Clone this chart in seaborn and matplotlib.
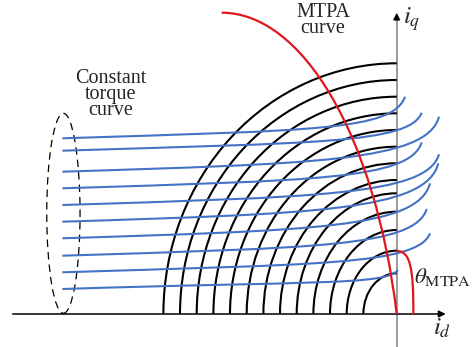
import matplotlib
matplotlib.use("Agg")
import matplotlib.pyplot as plt
import seaborn as sns
from matplotlib.patches import Arc, Ellipse, PathPatch
from matplotlib.path import Path

# ---- data (units ~ pixels, origin at the id/iq crossing) ----
ARC_RX = [233.3, 216.7, 200.0, 183.3, 166.7, 150.0, 133.3, 116.7, 100.0, 83.3, 66.7, 50.0, 33.3]
ARC_RY = [250.7, 234.0, 217.3, 200.7, 184.0, 167.3, 150.7, 134.0, 120.7, 102.3, 84.0, 63.3, 40.7]

TQ_LEFT_X = -334.3
TQ_LEFT_Y = [175.7, 163.3, 142.3, 125.7, 109.0, 92.3, 75.7, 58.3, 41.7, 25.0]
TQ_END_X  = [8.3, 25.0, 42.3, 25.0, 42.3, 41.6, 33.3, 30.0, 33.3, 1.3]
TQ_END_Y  = [217.3, 201.3, 197.3, 171.7, 159.7, 150.7, 130.7, 105.0, 80.7, 44.0]

MTPA_X = [-175.0, -95.0, -21.6, 0.0]
MTPA_Y = [301.3, 301.3, 180.0, 0.0]
THETA_X = [0.0, 14.0, 16.7, 16.7]
THETA_Y = [63.0, 63.0, 45.0, 0.0]

ELL_CENTER = (-333.3, 100.7)
ELL_W, ELL_H = 33.3, 200.0

BLUE = "#4472c4"
RED = "#e0161b"

sns.set_style("white")
plt.rcParams["font.family"] = ["Liberation Serif", "DejaVu Serif"]
plt.rcParams["mathtext.fontset"] = "stix"

fig = plt.figure(figsize=(4.75, 3.47), dpi=100)
ax = fig.add_axes([0, 0, 1, 1])
ax.set_xlim(-396.7, 78.3)
ax.set_ylim(-33, 314)
ax.axis("off")

# axes
ax.plot([0, 0], [-33, 296], color="#7f7f7f", lw=1.1, zorder=1)
ax.annotate("", xy=(0, 304), xytext=(0, 292),
            arrowprops=dict(arrowstyle="-|>", color="black", lw=1.0, mutation_scale=10))
ax.annotate("", xy=(49, 0), xytext=(-384, 0),
            arrowprops=dict(arrowstyle="-|>", color="black", lw=1.1, mutation_scale=10,
                            shrinkA=0, shrinkB=0), zorder=1)

# current circles
for rx, ry in zip(ARC_RX, ARC_RY):
    ax.add_patch(Arc((0, 0), 2 * rx, 2 * ry, theta1=90, theta2=180,
                     color="black", lw=1.5, zorder=2))

# constant torque curves
for yl, xe, ye in zip(TQ_LEFT_Y, TQ_END_X, TQ_END_Y):
    rise = ye - yl
    verts = [(TQ_LEFT_X, yl), (TQ_LEFT_X + 250, yl + 8),
             (xe - 12, ye - 0.82 * rise), (xe, ye)]
    p = Path(verts, [Path.MOVETO, Path.CURVE4, Path.CURVE4, Path.CURVE4])
    ax.add_patch(PathPatch(p, fill=False, edgecolor=BLUE, lw=1.5, zorder=3))

# MTPA curve and angle mark
for xs, ys in [(MTPA_X, MTPA_Y), (THETA_X, THETA_Y)]:
    p = Path(list(zip(xs, ys)), [Path.MOVETO, Path.CURVE4, Path.CURVE4, Path.CURVE4])
    ax.add_patch(PathPatch(p, fill=False, edgecolor=RED, lw=1.6, zorder=4))

# dashed ellipse
ax.add_patch(Ellipse(ELL_CENTER, ELL_W, ELL_H, fill=False, edgecolor="black",
                     lw=0.9, ls=(0, (6, 4)), zorder=2))

# labels
fs = 14.5
ax.text(-73.7, 280.7, "MTPA\ncurve", ha="center", va="baseline", fontsize=fs,
        linespacing=0.78, multialignment="center")
ax.text(-286, 199, "Constant\ntorque\ncurve", ha="center", va="baseline", fontsize=fs,
        linespacing=0.8, multialignment="center")
ax.text(6.3, 290, r"$i_q$", ha="left", va="baseline", fontsize=18)
ax.text(36.7, -21, r"$i_d$", ha="left", va="baseline", fontsize=18)
ax.text(17.5, 31.3, r"$\theta_{\mathrm{MTPA}}$", ha="left", va="baseline", fontsize=16.5)

fig.savefig("out.png", dpi=100)
